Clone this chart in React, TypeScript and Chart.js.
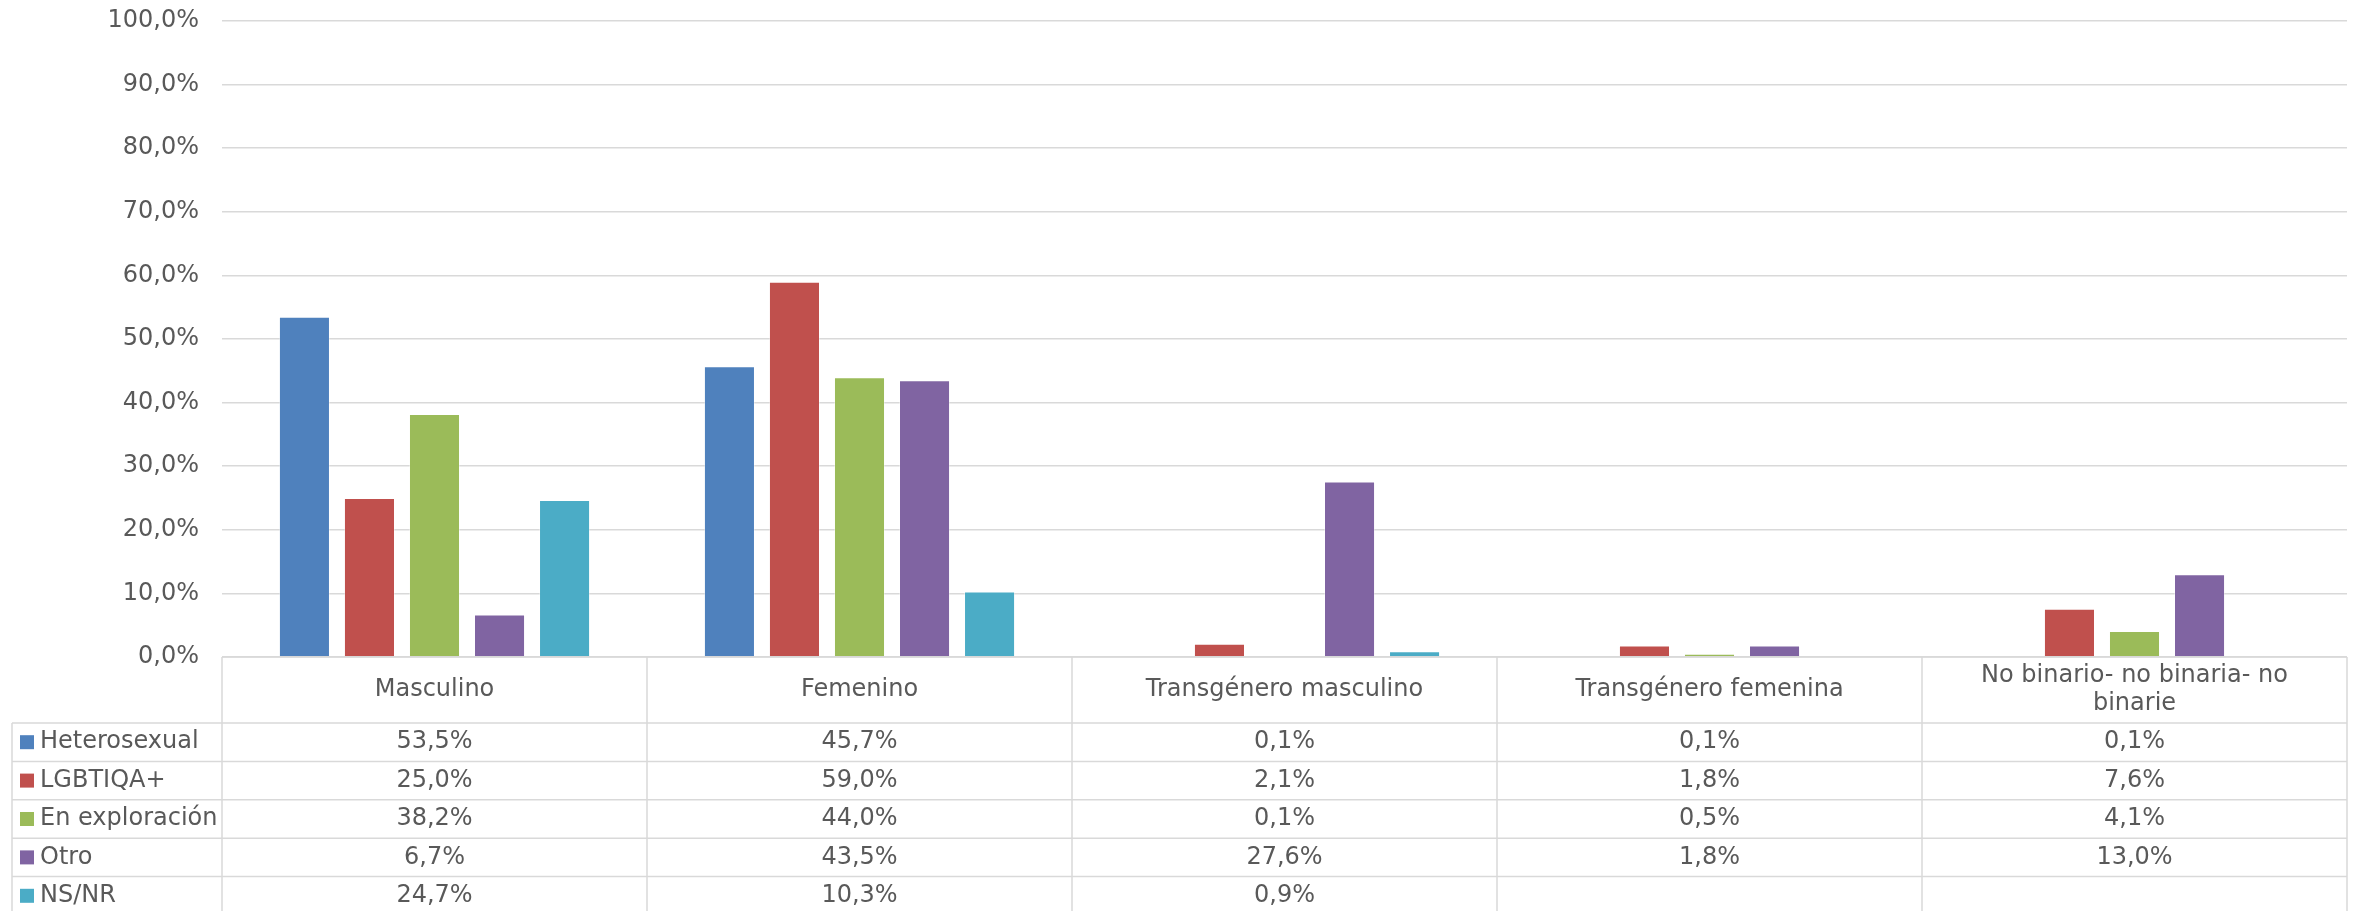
import React, { useEffect, useRef } from "react";
import { Chart, registerables } from "chart.js";

Chart.register(...registerables);

const categories: string[][] = [
  ["Masculino"],
  ["Femenino"],
  ["Transgénero masculino"],
  ["Transgénero femenina"],
  ["No binario- no binaria- no", "binarie"],
];

const seriesNames = ["Heterosexual", "LGBTIQA+", "En exploración", "Otro", "NS/NR"];
const heterosexual = [53.5, 45.7, 0.1, 0.1, 0.1];
const lgbtiqa = [25.0, 59.0, 2.1, 1.8, 7.6];
const enExploracion = [38.2, 44.0, 0.1, 0.5, 4.1];
const otro = [6.7, 43.5, 27.6, 1.8, 13.0];
const nsnr: (number | null)[] = [24.7, 10.3, 0.9, null, null];
const seriesColors = ["#4F81BD", "#C0504D", "#9BBB59", "#8064A2", "#4BACC6"];

const FONT = "DejaVu Sans";
const TEXT = "#595959";
const LINE = "#d9d9d9";

const fmt = (v: number) => v.toFixed(1).replace(".", ",") + "%";

export default function App() {
  const ref = useRef<HTMLCanvasElement | null>(null);
  useEffect(() => {
    if (!ref.current) return;
    const allSeries = [heterosexual, lgbtiqa, enExploracion, otro, nsnr];
    const tablePlugin = {
      id: "dataTable",
      afterDraw(chart: any) {
        const ctx = chart.ctx;
        const x = chart.scales.x;
        const area = chart.chartArea;
        const n = categories.length;
        const colW = (area.right - area.left) / n;
        const top = area.bottom;
        const headerBottom = top + 66;
        const rowH = 38.4;
        const legendLeft = 12;
        const bottom = chart.height + 2;
        ctx.save();
        ctx.strokeStyle = LINE;
        ctx.lineWidth = 1.5;
        ctx.beginPath();
        ctx.moveTo(area.left, top);
        ctx.lineTo(area.right, top);
        for (let r = 0; r <= seriesNames.length; r++) {
          const y = headerBottom + r * rowH;
          if (y > chart.height) break;
          ctx.moveTo(legendLeft, y);
          ctx.lineTo(area.right, y);
        }
        ctx.moveTo(legendLeft, headerBottom);
        ctx.lineTo(legendLeft, bottom);
        for (let i = 0; i <= n; i++) {
          const xx = area.left + i * colW;
          ctx.moveTo(xx, top);
          ctx.lineTo(xx, bottom);
        }
        ctx.stroke();

        ctx.fillStyle = TEXT;
        ctx.font = `24px "${FONT}"`;
        ctx.textAlign = "center";
        ctx.textBaseline = "middle";
        categories.forEach((lines, i) => {
          const cx = x.getPixelForValue(i);
          const cy = (top + headerBottom) / 2;
          const lh = 28;
          lines.forEach((ln, k) => {
            ctx.fillText(ln, cx, cy + (k - (lines.length - 1) / 2) * lh);
          });
        });
        seriesNames.forEach((name, r) => {
          const cy = headerBottom + r * rowH + rowH / 2;
          ctx.fillStyle = seriesColors[r];
          ctx.fillRect(20, cy - 7, 14, 14);
          ctx.fillStyle = TEXT;
          ctx.textAlign = "left";
          ctx.fillText(name, 40, cy);
          ctx.textAlign = "center";
          allSeries[r].forEach((v, i) => {
            if (v === null || v === undefined) return;
            ctx.fillText(fmt(v), x.getPixelForValue(i), cy);
          });
        });
        ctx.restore();
      },
    };

    const chart = new Chart(ref.current, {
      type: "bar",
      data: {
        labels: categories.map((c) => c.join(" ")),
        datasets: allSeries.map((d, i) => ({
          label: seriesNames[i],
          data: d,
          backgroundColor: seriesColors[i],
          borderColor: "rgba(255,255,255,0.35)",
          borderWidth: 1,
          categoryPercentage: 0.765,
          barPercentage: 0.785,
        })),
      },
      options: {
        animation: false,
        responsive: false,
        layout: { padding: { left: 0, right: 7, top: 21, bottom: 254 } },
        plugins: { legend: { display: false }, tooltip: { enabled: false } },
        scales: {
          x: { display: false },
          y: {
            min: 0,
            max: 100,
            afterFit: (s: any) => {
              s.width = 222;
              s.paddingTop = 0;
              s.paddingBottom = 0;
            },
            ticks: {
              stepSize: 10,
              padding: 23,
              color: TEXT,
              font: { family: FONT, size: 24 },
              callback: (v: any) => fmt(Number(v)),
            },
            grid: { color: LINE, lineWidth: 1.5, drawTicks: false },
            border: { display: false },
          },
        },
      },
      plugins: [tablePlugin],
    });
    return () => chart.destroy();
  }, []);
  return (
    <div style={{ position: "absolute", left: 0, top: 0, width: 2354, height: 911, background: "#fff" }}>
      <canvas ref={ref} width={2354} height={911} style={{ width: 2354, height: 911 }} />
    </div>
  );
}
